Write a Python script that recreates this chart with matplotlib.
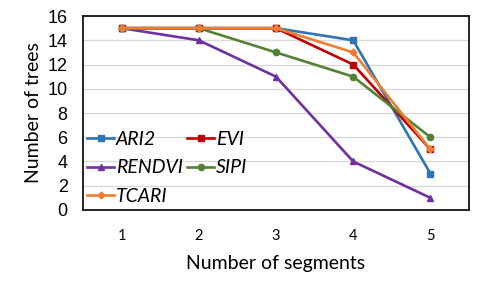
import matplotlib
matplotlib.use("Agg")
import matplotlib.pyplot as plt

segments = [1, 2, 3, 4, 5]
ari2 = [15, 15, 15, 14, 3]
evi = [15, 15, 15, 12, 5]
rendvi = [15, 14, 11, 4, 1]
sipi = [15, 15, 13, 11, 6]
tcari = [15, 15, 15, 13, 5]

series = [
    ("ARI2", ari2, "#2E75B6", "s"),
    ("EVI", evi, "#C00000", "s"),
    ("RENDVI", rendvi, "#7030A0", "^"),
    ("SIPI", sipi, "#548235", "o"),
    ("TCARI", tcari, "#ED7D31", "D"),
]

fig = plt.figure(figsize=(4.84, 2.92), dpi=100)
ax = fig.add_axes([0.1715, 0.281, 0.7975, 0.664])

lines = {}
for name, vals, col, mk in series:
    ln, = ax.plot(segments, vals, color=col, marker=mk, lw=1.9,
                  ms=4.5 if mk != "D" else 3.5, label=name, zorder=3)
    lines[name] = ln

ax.set_xlim(0.5, 5.5)
ax.set_ylim(0, 16)
ax.set_yticks(range(0, 17, 2))
ax.set_xticks(segments)
ax.grid(axis="y", color="#d9d9d9", lw=1, zorder=0)
ax.set_axisbelow(True)
for s in ax.spines.values():
    s.set_color("black")
    s.set_linewidth(1.2)
ax.tick_params(length=0)
for t in ax.get_yticklabels():
    t.set_fontfamily("Liberation Sans")
    t.set_fontsize(13)
for t in ax.get_xticklabels():
    t.set_fontfamily("Lato")
    t.set_fontsize(10.5)
ax.tick_params(axis="x", pad=14)
ax.tick_params(axis="y", pad=11)
ax.set_ylabel("Number of trees", fontfamily="Lato", fontsize=14, labelpad=4)
ax.set_xlabel("Number of segments", fontfamily="Lato", fontsize=14, labelpad=8)

order = ["ARI2", "RENDVI", "TCARI", "EVI", "SIPI"]
leg = ax.legend([lines[n] for n in order], order,
                loc="lower left", bbox_to_anchor=(-0.025, -0.045), ncol=2, frameon=False,
                prop={"family": "Lato", "style": "italic", "size": 14},
                handlelength=1.4, handletextpad=0.1, columnspacing=0.2,
                labelspacing=0.6, borderpad=0.2)

fig.savefig("out.png", dpi=100)
